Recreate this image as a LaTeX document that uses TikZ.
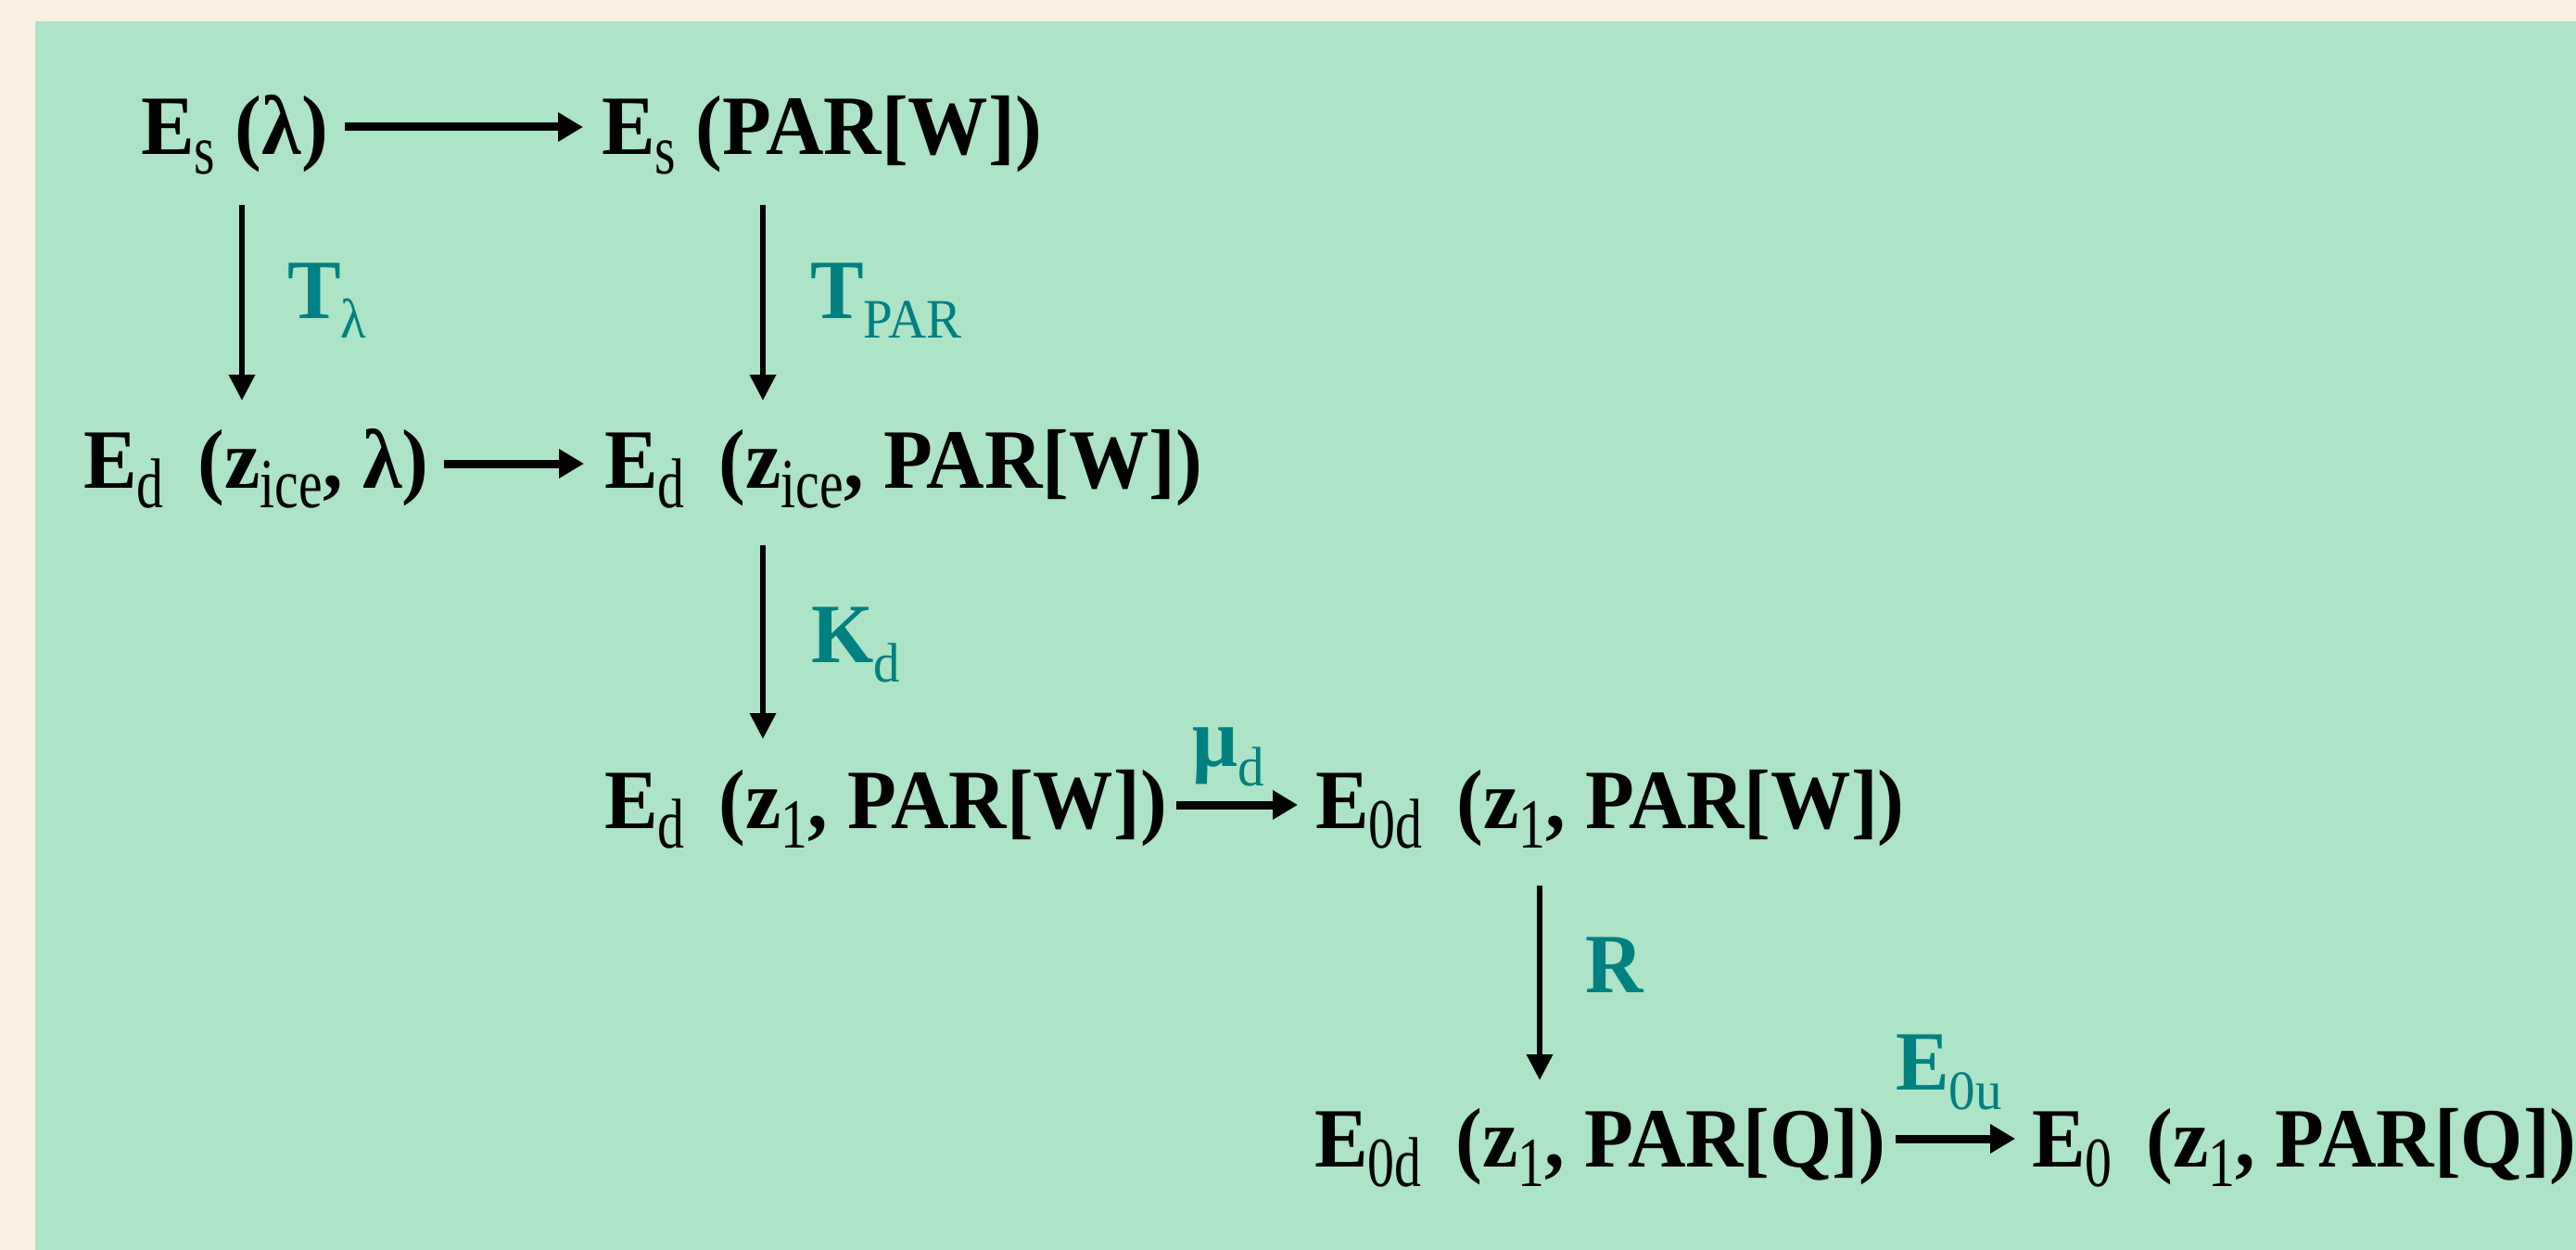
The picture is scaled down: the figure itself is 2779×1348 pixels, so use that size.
\documentclass[tikz,border=0pt]{standalone}
\usepackage{fontspec}
\setmainfont{Liberation Serif}[FakeStretch=0.95]
\newfontfamily\subfnt{Liberation Serif}[FakeStretch=0.76]
\usetikzlibrary{arrows.meta,calc}
\definecolor{cream}{RGB}{250,240,223}
\definecolor{mint}{RGB}{173,227,198}
\definecolor{labteal}{RGB}{0,128,128}
\newcommand{\sbx}[1]{\raisebox{-21pt}{\subfnt\fontsize{76}{80}\selectfont\mdseries #1}}
\newcommand{\lsb}[1]{\raisebox{-21pt}{\fontsize{60}{64}\selectfont\mdseries #1}}
\tikzset{
  term/.style={anchor=base west, inner sep=0pt, font=\fontsize{91}{100}\selectfont\bfseries, text=black},
  lab/.style={anchor=base west, inner sep=0pt, font=\fontsize{91}{100}\selectfont\bfseries, text=labteal},
  harr/.style={line width=9pt, -{Triangle[length=27pt,width=30pt]}},
  varr/.style={line width=6.5pt, -{Triangle[length=28pt,width=27pt]}}
}
\begin{document}
\begin{tikzpicture}[x=1pt,y=-1pt]
\fill[cream] (0,0) rectangle (2779,1348);
\fill[mint] (38,23) rectangle (2779,1348);
\useasboundingbox (0,0) rectangle (2779,1348);
% terms
\node[term] (esl) at (152,167) {E\sbx{s} (λ)};
\node[term] (espar) at (649,167) {E\sbx{s} (PAR[W])};
\node[term] (edl) at (90,526) {E\sbx{d}\, (z\sbx{ice}, λ)};
\node[term] (edpar) at (652,526) {E\sbx{d}\, (z\sbx{ice}, PAR[W])};
\node[term] (edw) at (652,893) {E\sbx{d}\, (z\sbx{1}, PAR[W])};
\node[term] (e0dw) at (1419,893) {E\sbx{0d}\, (z\sbx{1}, PAR[W])};
\node[term] (e0dq) at (1418,1258) {E\sbx{0d}\, (z\sbx{1}, PAR[Q])};
\node[term] (e0q) at (2192,1258) {E\sbx{0}\, (z\sbx{1}, PAR[Q])};
% labels
\node[lab] (tl) at (310,343) {T\lsb{λ}};
\node[lab] (tpar) at (874,343) {T\lsb{PAR}};
\node[lab] (kd) at (875,714) {K\lsb{d}};
\node[lab] (mud) at (1286,826) {μ\lsb{d}};
\node[lab] (rr) at (1710,1070) {R};
\node[lab] (e0u) at (2045,1175) {E\lsb{0u}};
% horizontal arrows
\draw[harr] ($(esl.base east)+(18,-30)$) -- ($(espar.base west)+(-20,-30)$);
\draw[harr] ($(edl.base east)+(16,-26)$) -- ($(edpar.base west)+(-22,-26)$);
\draw[harr] ($(edw.base east)+(10,-25)$) -- ($(e0dw.base west)+(-19,-25)$);
\draw[harr] ($(e0dq.base east)+(10,-30)$) -- ($(e0q.base west)+(-18,-30)$);
% vertical arrows
\draw[varr] ($(esl.base west)+(109,54)$) -- ($(edl.base west)+(171,-94)$);
\draw[varr] ($(espar.base west)+(174,54)$) -- ($(edpar.base west)+(171,-94)$);
\draw[varr] ($(edpar.base west)+(171,62)$) -- ($(edw.base west)+(171,-96)$);
\draw[varr] ($(e0dw.base west)+(242,62)$) -- ($(e0dq.base west)+(243,-93)$);
\end{tikzpicture}
\end{document}
